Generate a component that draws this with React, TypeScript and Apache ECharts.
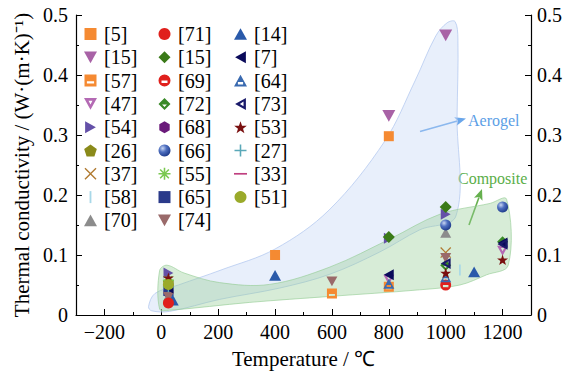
import React, { useEffect, useRef } from 'react';
import * as echarts from 'echarts';

// ---------- data (°C, W/(m·K)) ----------
const r5: number[][] = [[400, 0.1], [800, 0.298]];
const r15a: number[][] = [[800, 0.332], [1000, 0.466]];
const r57: number[][] = [[600, 0.036], [800, 0.047]];
const r47: number[][] = [[800, 0.059], [1200, 0.107]];
const r54: number[][] = [[25, 0.07], [800, 0.128], [1000, 0.168]];
const r26: number[][] = [[25, 0.055]];
const r37: number[][] = [[1000, 0.104]];
const r58: number[][] = [[1050, 0.075]];
const r70: number[][] = [[25, 0.031], [1000, 0.137]];
const r71: number[][] = [[25, 0.02]];
const r15b: number[][] = [[800, 0.13], [1000, 0.18]];
const r69: number[][] = [[1000, 0.05]];
const r72: number[][] = [[1000, 0.083], [1200, 0.122]];
const r68: number[][] = [[25, 0.037]];
const r66: number[][] = [[1000, 0.15], [1200, 0.18]];
const r55: number[][] = [[25, 0.058]];
const r65: number[][] = [[25, 0.04]];
const r74: number[][] = [[25, 0.03], [600, 0.056], [1000, 0.095]];
const r14: number[][] = [[40, 0.025], [400, 0.066], [1100, 0.072]];
const r7: number[][] = [[25, 0.045], [800, 0.067], [1200, 0.12]];
const r64: number[][] = [[800, 0.052], [1000, 0.063]];
const r73: number[][] = [[1000, 0.086], [1200, 0.118]];
const r53: number[][] = [[25, 0.062], [1000, 0.07], [1200, 0.092]];
const r27: number[][] = [[25, 0.047]];
const r33: number[][] = [[25, 0.05]];
const r51: number[][] = [[25, 0.051]];

const legendCol1 = ['[5]', '[15]', '[57]', '[47]', '[54]', '[26]', '[37]', '[58]', '[70]'];
const legendCol2 = ['[71]', '[15] ', '[69]', '[72]', '[68]', '[66]', '[55]', '[65]', '[74]'];
const legendCol3 = ['[14]', '[7]', '[64]', '[73]', '[53]', '[27]', '[33]', '[51]'];

const xMajorTicks = [-200, 0, 200, 400, 600, 800, 1000, 1200];
const xMinorTicks = [-100, 100, 300, 500, 700, 900, 1100];

// region outlines (data coordinates)
const aerogelOutline: number[][] = [
  [-45, 0.014], [-22, 0.036], [60, 0.05], [210, 0.075], [400, 0.11], [590, 0.175],
  [786, 0.29], [892, 0.39], [965, 0.465], [1005, 0.487], [1033, 0.489], [1043, 0.46],
  [1040, 0.33], [1036, 0.165], [909, 0.142], [768, 0.105], [593, 0.068], [417, 0.045],
  [205, 0.026], [29, 0.006], [-34, 0.007],
];
const compositeOutline: number[][] = [
  [-6, 0.074], [20, 0.083], [80, 0.07], [205, 0.054], [381, 0.051], [593, 0.08],
  [805, 0.127], [980, 0.168], [1156, 0.186], [1214, 0.193], [1220, 0.083],
  [1144, 0.067], [1050, 0.05], [909, 0.042], [593, 0.031], [311, 0.021], [29, 0.008], [-6, 0.01],
];

// ---------- symbols ----------
const S = {
  sq: 'path://M0,0H20V20H0Z',
  sqBar: 'path://M0,0H20V20H0Z M4,11V15H16V11Z',
  triUp: 'path://M10,0L20,18H0Z',
  triUpBar: 'path://M10,0L20,18H0Z M6,11V15H14V11Z',
  triDown: 'path://M0,0H20L10,18Z',
  triDownHollow: 'path://M0,0H20L10,18Z M7,4L10,10L13,4Z',
  triRight: 'path://M0,0L18,10L0,20Z',
  triLeft: 'path://M18,0V20L0,10Z',
  triLeftHollow: 'path://M18,0V20L0,10Z M14,6L8,10L14,14Z',
  circleBar: 'path://M10,0A10,10 0 1,1 10,20A10,10 0 1,1 10,0Z M5,10V14H15V10Z',
  diamond: 'path://M10,0L20,10L10,20L0,10Z',
  diamondHollow: 'path://M10,0L20,10L10,20L0,10Z M6,11L10,15L14,11Z',
  pentagon: 'path://M10,0L19.51,6.91L15.88,18.09L4.12,18.09L0.49,6.91Z',
  hexagon: 'path://M10,0L18.66,5L18.66,15L10,20L1.34,15L1.34,5Z',
  star: 'path://M10,0L12.35,6.76L19.51,6.91L13.8,11.24L15.88,18.09L10,14L4.12,18.09L6.2,11.24L0.49,6.91L7.65,6.76Z',
  cross: 'path://M0,1.6L1.6,0L10,8.4L18.4,0L20,1.6L11.6,10L20,18.4L18.4,20L10,11.6L1.6,20L0,18.4L8.4,10Z',
  plus: 'path://M8.7,0H11.3V8.7H20V11.3H11.3V20H8.7V11.3H0V8.7H8.7Z',
  aster: 'path://M8.7,0H11.3V8.7H20V11.3H11.3V20H8.7V11.3H0V8.7H8.7Z M1.8,3.6L3.6,1.8L10,8.2L16.4,1.8L18.2,3.6L11.8,10L18.2,16.4L16.4,18.2L10,11.8L3.6,18.2L1.8,16.4L8.2,10Z',
  vbar: 'path://M0,0H3V20H0Z',
  hbar: 'path://M0,0H20V2.6H0Z',
};

const sphere = new echarts.graphic.RadialGradient(0.35, 0.32, 0.7, [
  { offset: 0, color: '#c9d6f2' },
  { offset: 0.45, color: '#4f70c0' },
  { offset: 1, color: '#1f3c8c' },
]);

const seriesDefs: { name: string; data: number[][]; symbol: string; color: any; size?: number }[] = [
  { name: '[5]', data: r5, symbol: S.sq, color: '#f58a32', size: 10 },
  { name: '[15]', data: r15a, symbol: S.triDown, color: '#a862a6', size: 13 },
  { name: '[57]', data: r57, symbol: S.sqBar, color: '#f58a32', size: 10 },
  { name: '[47]', data: r47, symbol: S.triDownHollow, color: '#b46ab4' },
  { name: '[54]', data: r54, symbol: S.triRight, color: '#6450a8' },
  { name: '[26]', data: r26, symbol: S.pentagon, color: '#8a8a1a' },
  { name: '[37]', data: r37, symbol: S.cross, color: '#b07a30' },
  { name: '[58]', data: r58, symbol: S.vbar, color: '#a8d8e8' },
  { name: '[70]', data: r70, symbol: S.triUp, color: '#8c8c8c' },
  { name: '[15] ', data: r15b, symbol: S.diamond, color: '#3a7a18', size: 12 },
  { name: '[69]', data: r69, symbol: S.circleBar, color: '#e0201c' },
  { name: '[72]', data: r72, symbol: S.diamondHollow, color: '#3a8a28' },
  { name: '[68]', data: r68, symbol: S.hexagon, color: '#6a1a7a' },
  { name: '[66]', data: r66, symbol: 'circle', color: sphere },
  { name: '[55]', data: r55, symbol: S.aster, color: '#7ac850' },
  { name: '[65]', data: r65, symbol: S.sq, color: '#2a3a8a', size: 10 },
  { name: '[74]', data: r74, symbol: S.triDown, color: '#9a6a6a' },
  { name: '[14]', data: r14, symbol: S.triUp, color: '#2a5aaa', size: 12 },
  { name: '[7]', data: r7, symbol: S.triLeft, color: '#0a0a5a' },
  { name: '[64]', data: r64, symbol: S.triUpBar, color: '#3a6ab0' },
  { name: '[73]', data: r73, symbol: S.triLeftHollow, color: '#1a1a6a' },
  { name: '[53]', data: r53, symbol: S.star, color: '#7a1010' },
  { name: '[27]', data: r27, symbol: S.plus, color: '#5aa8b8' },
  { name: '[33]', data: r33, symbol: S.hbar, color: '#c04080' },
  { name: '[51]', data: r51, symbol: 'circle', color: '#9aaa2a' },
  { name: '[71]', data: r71, symbol: 'circle', color: '#e0201c' },
];

const FONT = 'Liberation Serif';

function arrow(tail: number[], tip: number[], color: string) {
  const dx = tip[0] - tail[0];
  const dy = tip[1] - tail[1];
  const len = Math.sqrt(dx * dx + dy * dy);
  const ux = dx / len, uy = dy / len;
  const hl = 11, hw = 4.5;
  const bx = tip[0] - ux * hl, by = tip[1] - uy * hl;
  return [
    { type: 'line', silent: true, shape: { x1: tail[0], y1: tail[1], x2: bx + ux * 2, y2: by + uy * 2 }, style: { stroke: color, lineWidth: 1.6 } },
    {
      type: 'polygon', silent: true,
      shape: { points: [[tip[0], tip[1]], [bx - uy * hw, by + ux * hw], [bx + ux * 2.5, by + uy * 2.5], [bx + uy * hw, by - ux * hw]] },
      style: { fill: color },
    },
  ];
}

function legendAt(left: number, names: string[]) {
  return {
    orient: 'vertical', left, top: 24, padding: 0, itemGap: 3.3, itemWidth: 13, itemHeight: 12,
    selectedMode: false, data: names, align: 'left',
    formatter: (n: string) => n.trim(),
    textStyle: { fontFamily: FONT, fontSize: 20, color: '#000', lineHeight: 20, padding: [0, 0, 0, 2] },
  };
}

export default function App() {
  const ref = useRef<HTMLDivElement>(null);
  useEffect(() => {
    const chart = echarts.init(ref.current!, null, { renderer: 'svg' });
    const axisLine = { show: true, onZero: false, lineStyle: { color: '#000', width: 1.2 } };
    const labelStyle = { fontFamily: FONT, fontSize: 20, color: '#000' };
    const option: any = {
      animation: false,
      backgroundColor: '#fff',
      grid: { left: 76, right: 41, top: 15, bottom: 53 },
      legend: [legendAt(84, legendCol1), legendAt(158, legendCol2), legendAt(234, legendCol3)],
      xAxis: [
        {
          type: 'value', min: -300, max: 1300, interval: 100, position: 'bottom',
          axisLine, splitLine: { show: false },
          axisTick: { show: true, inside: true, length: 6, customValues: xMajorTicks, lineStyle: { color: '#000' } },
          axisLabel: { ...labelStyle, margin: 7, customValues: xMajorTicks, formatter: (v: number) => (v < 0 ? '\u2212' + Math.abs(v) : String(v)) },
          name: 'Temperature / \u2103', nameLocation: 'middle', nameGap: 33,
          nameTextStyle: { fontFamily: FONT, fontSize: 21, color: '#000' },
        },
        {
          type: 'value', min: -300, max: 1300, interval: 100, position: 'bottom', gridIndex: 0,
          axisLine: { show: false, onZero: false }, splitLine: { show: false },
          axisTick: { show: true, inside: true, length: 3, customValues: xMinorTicks, lineStyle: { color: '#000' } },
          axisLabel: { show: false },
        },
      ],
      yAxis: [
        {
          type: 'value', min: 0, max: 0.5, interval: 0.1, position: 'left',
          axisLine, splitLine: { show: false },
          axisTick: { show: true, inside: true, length: 6, lineStyle: { color: '#000' } },
          minorTick: { show: true, splitNumber: 2, length: 3, lineStyle: { color: '#000' } },
          axisLabel: { ...labelStyle, margin: 8, formatter: (v: number) => (v === 0 ? '0' : v.toFixed(1)) },
          name: 'Thermal conductivity / (W\u00b7(m\u00b7K)\u207b\u00b9)', nameLocation: 'middle', nameGap: 34,
          nameTextStyle: { fontFamily: FONT, fontSize: 21, color: '#000' },
        },
        {
          type: 'value', min: 0, max: 0.5, interval: 0.1, position: 'right',
          axisLine, splitLine: { show: false },
          axisTick: { show: true, inside: true, length: 6, lineStyle: { color: '#000' } },
          minorTick: { show: true, splitNumber: 2, length: 3, lineStyle: { color: '#000' } },
          axisLabel: { ...labelStyle, margin: 6, formatter: (v: number) => (v === 0 ? '0' : v.toFixed(1)) },
        },
      ],
      series: [
        {
          type: 'custom', name: 'Aerogel region', coordinateSystem: 'cartesian2d', silent: true, z: 1,
          data: [[0, 0]],
          renderItem: (_p: any, api: any) => ({
            type: 'polygon',
            shape: { points: aerogelOutline.map((p) => api.coord(p)), smooth: 0.35 },
            style: { fill: 'rgba(195,212,245,0.38)', stroke: 'rgba(175,198,238,0.9)', lineWidth: 0.8 },
          }),
        },
        {
          type: 'custom', name: 'Composite region', coordinateSystem: 'cartesian2d', silent: true, z: 1,
          data: [[0, 0]],
          renderItem: (_p: any, api: any) => ({
            type: 'polygon',
            shape: { points: compositeOutline.map((p) => api.coord(p)), smooth: 0.35 },
            style: { fill: 'rgba(150,205,150,0.38)', stroke: 'rgba(150,205,150,0.8)', lineWidth: 0.8 },
          }),
        },
        ...seriesDefs.map((s) => ({
          type: 'scatter', name: s.name, data: s.data, symbol: s.symbol, symbolSize: s.size ?? 11,
          symbolKeepAspect: true, itemStyle: { color: s.color, opacity: 1 }, z: 3,
        })),
      ],
      graphic: [
        ...arrow([420, 131.5], [466, 118.5], '#6aa6ea'),
        { type: 'text', left: 468, top: 112, silent: true, style: { text: 'Aerogel', fontFamily: FONT, fontSize: 16, fill: '#5b9ee6' } },
        ...arrow([469, 225], [482, 189], '#66b04e'),
        { type: 'text', left: 458, top: 170, silent: true, style: { text: 'Composite', fontFamily: FONT, fontSize: 16, fill: '#5aae48' } },
      ],
    };
    chart.setOption(option);
    return () => chart.dispose();
  }, []);
  return <div ref={ref} style={{ position: 'absolute', left: 0, top: 0, width: 572, height: 374, background: '#fff' }} />;
}
